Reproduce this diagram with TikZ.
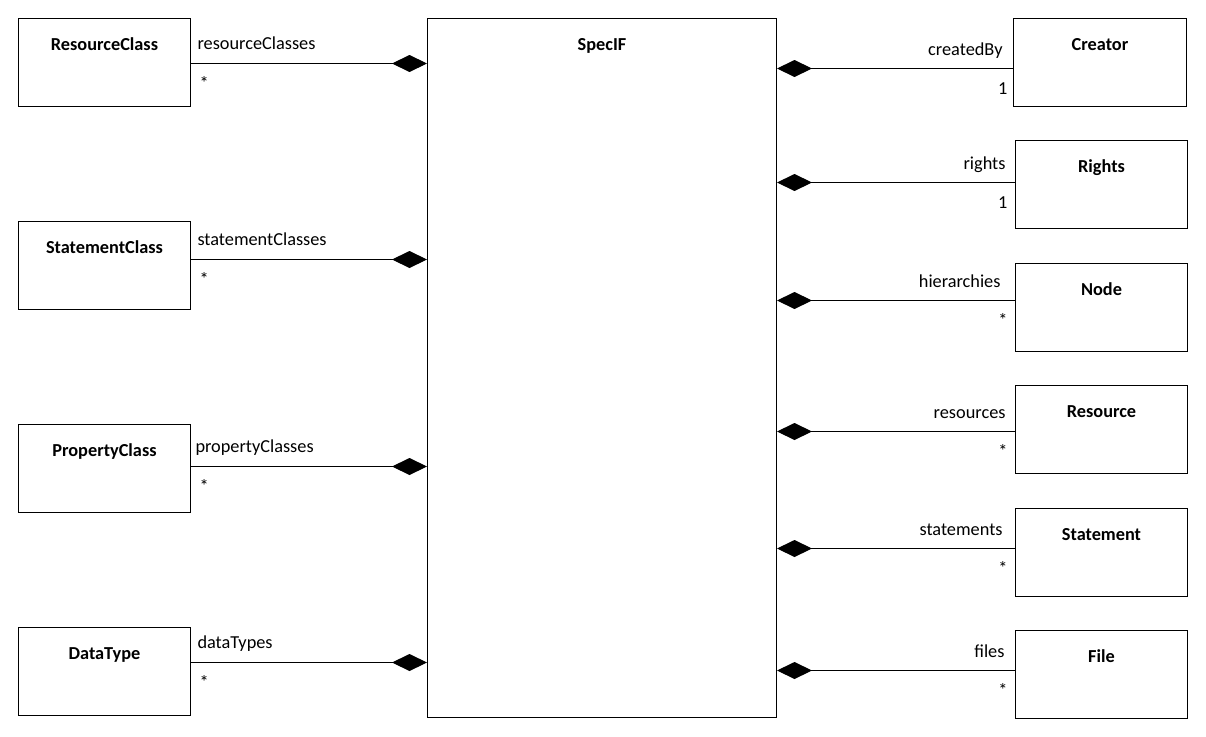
\documentclass[tikz,border=0pt]{standalone}
\usepackage{fontspec}
\setmainfont{Carlito}
\usetikzlibrary{arrows.meta}
\tikzset{
  box/.style={draw, line width=1pt, minimum width=172pt, minimum height=88pt, anchor=north west, inner sep=0pt},
  title/.style={font=\bfseries\fontsize{18.3}{22}\selectfont, anchor=base, yshift=-32pt, inner sep=0pt},
  lbl/.style={font=\fontsize{18.3}{22}\selectfont, inner sep=0pt},
  comp/.style={line width=1pt, -{Diamond[length=35pt,width=17pt]}},
}
\begin{document}
\begin{tikzpicture}[x=1pt,y=-1pt]
\useasboundingbox (0,0) rectangle (1206,736);
% central
\node[box, minimum width=349pt, minimum height=699pt, label={[title]north:SpecIF}] (sp) at (427,18) {};
% left
\node[box, label={[title]north:ResourceClass}] (rc) at (18,18) {};
\node[box, label={[title]north:StatementClass}] (sc) at (18,221) {};
\node[box, label={[title]north:PropertyClass}] (pc) at (18,424) {};
\node[box, label={[title]north:DataType}] (dt) at (18,627) {};
% right
\node[box, minimum width=173pt, label={[title]north:Creator}] (cr) at (1013,18) {};
\node[box, label={[title]north:Rights}] (ri) at (1015,140) {};
\node[box, label={[title]north:Node}] (no) at (1015,263) {};
\node[box, label={[title]north:Resource}] (re) at (1015,385) {};
\node[box, label={[title]north:Statement}] (st) at (1015,508) {};
\node[box, label={[title]north:File}] (fi) at (1015,630) {};
% left connectors
\draw[comp] ([yshift=-1pt]rc.east) -- ([yshift=-1pt]rc.east -| sp.west)
  node[lbl, at start, anchor=base west, xshift=6pt, yshift=14pt] {resourceClasses}
  node[lbl, at start, anchor=base west, xshift=8pt, yshift=-26pt] {*};
\draw[comp] ([yshift=6pt]sc.east) -- ([yshift=6pt]sc.east -| sp.west)
  node[lbl, at start, anchor=base west, xshift=6pt, yshift=14pt] {statementClasses}
  node[lbl, at start, anchor=base west, xshift=8pt, yshift=-26pt] {*};
\draw[comp] ([yshift=2pt]pc.east) -- ([yshift=2pt]pc.east -| sp.west)
  node[lbl, at start, anchor=base west, xshift=4pt, yshift=14pt] {propertyClasses}
  node[lbl, at start, anchor=base west, xshift=8pt, yshift=-26pt] {*};
\draw[comp] ([yshift=9pt]dt.east) -- ([yshift=9pt]dt.east -| sp.west)
  node[lbl, at start, anchor=base west, xshift=6pt, yshift=14pt] {dataTypes}
  node[lbl, at start, anchor=base west, xshift=8pt, yshift=-26pt] {*};
% right connectors
\draw[comp] ([yshift=-6pt]cr.west) -- ([yshift=-6pt]cr.west -| sp.east)
  node[lbl, at start, anchor=base east, xshift=-10pt, yshift=13pt] {createdBy}
  node[lbl, at start, anchor=base east, xshift=-5pt, yshift=-26pt] {1};
\draw[comp] ([yshift=2pt]ri.west) -- ([yshift=2pt]ri.west -| sp.east)
  node[lbl, at start, anchor=base east, xshift=-9pt, yshift=13pt] {rights}
  node[lbl, at start, anchor=base east, xshift=-7pt, yshift=-26pt] {1};
\draw[comp] ([yshift=7pt]no.west) -- ([yshift=7pt]no.west -| sp.east)
  node[lbl, at start, anchor=base east, xshift=-14pt, yshift=13pt] {hierarchies}
  node[lbl, at start, anchor=base east, xshift=-7pt, yshift=-26pt] {*};
\draw[comp] ([yshift=-2pt]re.west) -- ([yshift=-2pt]re.west -| sp.east)
  node[lbl, at start, anchor=base east, xshift=-9pt, yshift=13pt] {resources}
  node[lbl, at start, anchor=base east, xshift=-7pt, yshift=-26pt] {*};
\draw[comp] ([yshift=4pt]st.west) -- ([yshift=4pt]st.west -| sp.east)
  node[lbl, at start, anchor=base east, xshift=-12pt, yshift=13pt] {statements}
  node[lbl, at start, anchor=base east, xshift=-7pt, yshift=-26pt] {*};
\draw[comp] ([yshift=4pt]fi.west) -- ([yshift=4pt]fi.west -| sp.east)
  node[lbl, at start, anchor=base east, xshift=-10pt, yshift=13pt] {files}
  node[lbl, at start, anchor=base east, xshift=-7pt, yshift=-26pt] {*};
\end{tikzpicture}
\end{document}
